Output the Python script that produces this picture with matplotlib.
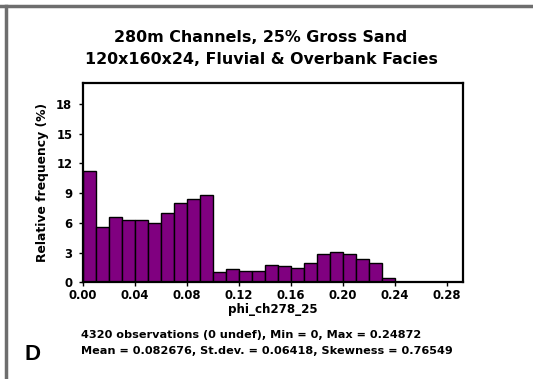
import matplotlib
matplotlib.use("Agg")
import matplotlib.pyplot as plt
from matplotlib.lines import Line2D

# porosity histogram, bin width 0.01
bin_left = [0.00, 0.01, 0.02, 0.03, 0.04, 0.05, 0.06, 0.07, 0.08, 0.09,
            0.10, 0.11, 0.12, 0.13, 0.14, 0.15, 0.16, 0.17, 0.18, 0.19,
            0.20, 0.21, 0.22, 0.23]
freq = [11.2, 5.6, 6.55, 6.25, 6.25, 6.0, 7.0, 7.95, 8.4, 8.8,
        1.05, 1.3, 1.15, 1.15, 1.75, 1.6, 1.45, 1.9, 2.9, 3.05,
        2.9, 2.3, 1.9, 0.45]
xticks = [0.00, 0.04, 0.08, 0.12, 0.16, 0.20, 0.24, 0.28]
yticks = [0, 3, 6, 9, 12, 15, 18]

title1 = "280m Channels, 25% Gross Sand"
title2 = "120x160x24, Fluvial & Overbank Facies"
stats1 = "4320 observations (0 undef), Min = 0, Max = 0.24872"
stats2 = "Mean = 0.082676, St.dev. = 0.06418, Skewness = 0.76549"

plt.rcParams["font.family"] = "DejaVu Sans"

fig = plt.figure(figsize=(5.33, 3.79), dpi=100)
W, H = 533, 379
ax = fig.add_axes([82.7 / W, 1 - 282.3 / H, 380 / W, 199.3 / H])

ax.bar(bin_left, freq, width=0.01, align="edge", color="#800080",
       edgecolor="black", linewidth=1.0)

ax.set_xlim(0, 0.2923)
ax.set_ylim(0, 20.1)
ax.set_xticks(xticks)
ax.set_xticklabels(["%.2f" % t for t in xticks])
ax.set_yticks(yticks)
ax.tick_params(direction="out", length=3, width=1, labelsize=8.4)
ax.tick_params(axis="x", pad=2)
ax.tick_params(axis="y", pad=4.5)
for lab in ax.get_xticklabels() + ax.get_yticklabels():
    lab.set_fontweight("bold")
for sp in ax.spines.values():
    sp.set_linewidth(1.6)

ax.set_ylabel("Relative frequency (%)", fontsize=8.9, fontweight="bold", labelpad=5)
ax.set_xlabel("phi_ch278_25", fontsize=8.6, fontweight="bold", labelpad=0.5)

# titles
fig.text(261 / W, 1 - 38 / H, title1, ha="center", va="center",
         fontsize=11.4, fontweight="bold")
fig.text(261 / W, 1 - 60 / H, title2, ha="center", va="center",
         fontsize=11.4, fontweight="bold")

# summary statistics
fig.text(81 / W, 1 - 335 / H, stats1, ha="left", va="center",
         fontsize=8.1, fontweight="bold")
fig.text(81 / W, 1 - 351 / H, stats2, ha="left", va="center",
         fontsize=8.1, fontweight="bold")
fig.text(33 / W, 1 - 355 / H, "D", ha="center", va="center",
         fontsize=16, fontweight="bold", family="Liberation Sans")

# grey frame on top and left edges
fig.add_artist(Line2D([0, 1], [1 - 5.5 / H, 1 - 5.5 / H], color="#6e6e6e",
                      linewidth=2.5, transform=fig.transFigure))
fig.add_artist(Line2D([6 / W, 6 / W], [0, 1 - 5.5 / H], color="#6e6e6e",
                      linewidth=2.5, transform=fig.transFigure))

fig.savefig("out.png", dpi=100)
